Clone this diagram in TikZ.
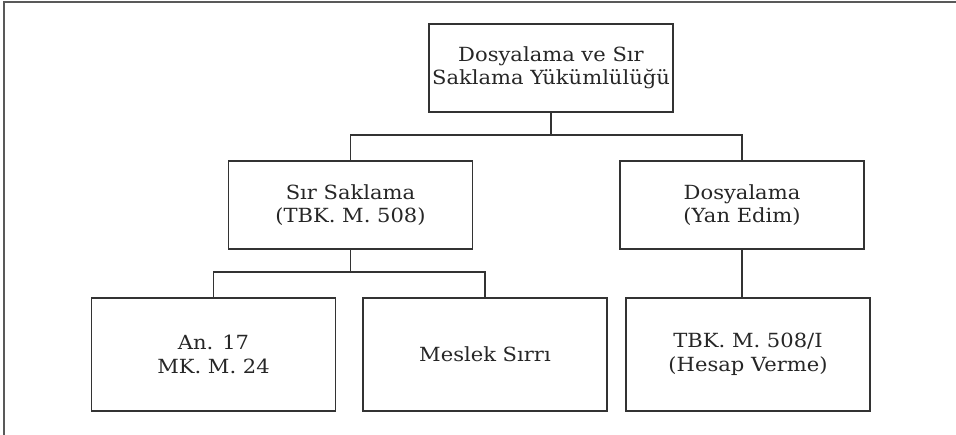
\documentclass[tikz,border=0pt]{standalone}
\usepackage{fontspec}
\setmainfont{DejaVu Serif}[FakeStretch=1.08]
\begin{document}
\begin{tikzpicture}[x=1pt,y=-1pt,
  box/.style={draw=black!80, line width=1.2pt, rectangle, align=center,
    inner sep=0pt, minimum width=244pt,
    font=\fontsize{19.5}{23.5}\selectfont, text=black!85},
  midbox/.style={box, minimum height=88pt},
  lowbox/.style={box, minimum height=113pt},
  link/.style={draw=black!80, line width=1.2pt}]
  \useasboundingbox (0,0) rectangle (956,434);
  % partial frame
  \draw[black!65, line width=2pt] (3.5,440) -- (3.5,1.5) -- (960,1.5);

  \node[midbox] (top)  at (551,68)    {Dosyalama ve Sır\\Saklama Yükümlülüğü};
  \node[midbox] (sir)  at (350.5,205) {Sır Saklama\\(TBK. M. 508)};
  \node[midbox] (dos)  at (742,205)   {Dosyalama\\(Yan Edim)};
  \node[lowbox] (an)   at (213.5,354.5) {An. 17\\MK. M. 24};
  \node[lowbox] (mes)  at (485,354.5) {Meslek Sırrı};
  \node[lowbox] (tbk)  at (748,354.5) {TBK. M. 508/I\\(Hesap Verme)};

  \coordinate (bus1) at (0,135);
  \coordinate (bus2) at (0,272);
  \draw[link] (top.south) -- (top.south |- bus1);
  \draw[link] (sir.north) -- (sir.north |- bus1) -- (dos.north |- bus1) -- (dos.north);
  \draw[link] (sir.south) -- (sir.south |- bus2);
  \draw[link] (an.north) -- (an.north |- bus2) -- (mes.north |- bus2) -- (mes.north);
  \draw[link] (dos.south) -- (dos.south |- tbk.north);
\end{tikzpicture}
\end{document}
